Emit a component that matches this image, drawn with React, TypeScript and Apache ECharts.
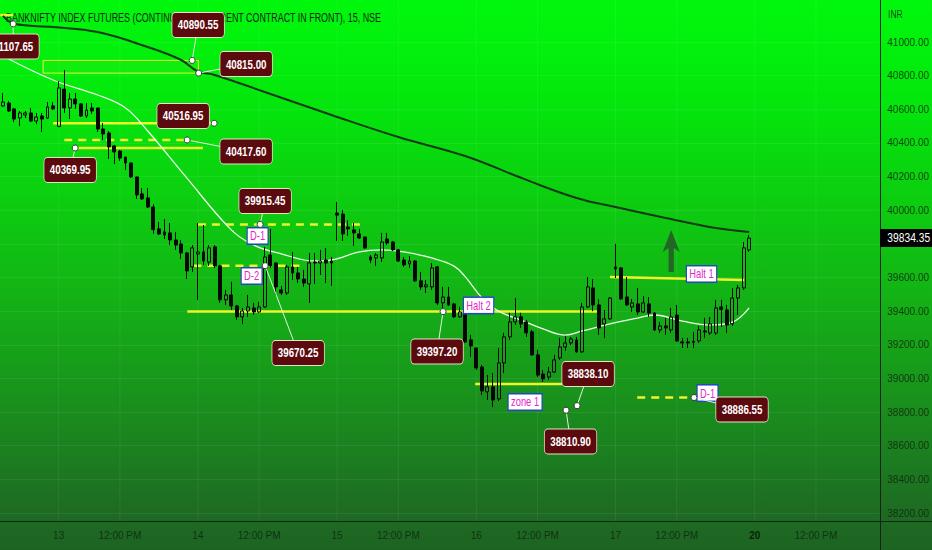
import React, { useEffect, useRef } from 'react';
import * as echarts from 'echarts';

// ---------- texts ----------
const TITLE = 'BANKNIFTY INDEX FUTURES (CONTINUOUS: CURRENT CONTRACT IN FRONT), 15, NSE';
const CURRENCY = 'INR';
const NOON_LABEL = '12:00 PM';

// ---------- time axis ----------
const tradingDays = [10, 13, 14, 15, 16, 17, 20];
const boldDayLabels = [20];
const BARS_PER_DAY = 25; // 09:15 ... 15:15, 15-minute bars
const SESSION_OPEN_MIN = 9 * 60 + 15;
const BAR_MINUTES = 15;
const FIRST_VISIBLE_SLOT = 15; // 13:00 bar of day 10
const VISIBLE_SLOTS = 158;
const FIRST_BAR_INDEX = -10; // bar index of first visible slot (0 = 13th 09:15)

// ---------- price axis ----------
const AXIS_MIN = 38200;
const AXIS_MAX = 41000;
const AXIS_STEP = 200;

// ---------- candles [open, close, low, high] ----------
const day10Bars = [
  [40620, 40643, 40614, 40697], [40637, 40590, 40584, 40649], [40602, 40542, 40524, 40608],
  [40548, 40578, 40500, 40590], [40566, 40578, 40548, 40590], [40578, 40530, 40524, 40608],
  [40530, 40554, 40512, 40578], [40560, 40542, 40465, 40578], [40548, 40614, 40542, 40643],
  [40620, 40602, 40596, 40643],
];
const day13Bars = [
  [40497, 40727, 40495, 40768], [40720, 40608, 40578, 40834], [40608, 40661, 40542, 40697],
  [40661, 40632, 40602, 40697], [40632, 40560, 40554, 40637], [40560, 40596, 40548, 40637],
  [40608, 40590, 40572, 40637], [40608, 40483, 40465, 40608], [40483, 40453, 40417, 40518],
  [40459, 40376, 40305, 40471], [40382, 40346, 40275, 40388], [40352, 40310, 40293, 40358],
  [40316, 40281, 40240, 40316], [40281, 40198, 40192, 40281], [40198, 40091, 40067, 40198],
  [40097, 40067, 40061, 40132], [40073, 40019, 40013, 40132], [40019, 39885, 39860, 40035],
  [39889, 39859, 39853, 39930], [39871, 39853, 39829, 39948], [39865, 39823, 39793, 39924],
  [39823, 39793, 39764, 39871], [39799, 39746, 39710, 39823], [39746, 39639, 39591, 39752],
  [39663, 39776, 39633, 39793],
];
const day14Bars = [
  [39740, 39752, 39467, 39924], [39752, 39698, 39675, 39912], [39692, 39776, 39669, 39793],
  [39782, 39669, 39657, 39793], [39669, 39467, 39449, 39675], [39467, 39496, 39437, 39526],
  [39496, 39431, 39407, 39574], [39431, 39366, 39348, 39437], [39366, 39401, 39324, 39419],
  [39401, 39425, 39366, 39496], [39419, 39395, 39378, 39449], [39395, 39425, 39390, 39455],
  [39425, 39722, 39419, 39782], [39734, 39669, 39657, 39889], [39686, 39544, 39496, 39692],
  [39526, 39508, 39496, 39550], [39508, 39663, 39496, 39675], [39663, 39627, 39585, 39752],
  [39627, 39591, 39567, 39663], [39591, 39567, 39544, 39645], [39562, 39687, 39449, 39746],
  [39692, 39686, 39562, 39746], [39686, 39698, 39615, 39764], [39704, 39686, 39567, 39776],
  [39698, 39686, 39550, 39722],
];
const day15Bars = [
  [39983, 39971, 39817, 40049], [39977, 39859, 39817, 40001], [39900, 39889, 39847, 39941],
  [39883, 39865, 39788, 39924], [39859, 39835, 39829, 39889], [39841, 39776, 39770, 39841],
  [39722, 39704, 39686, 39734], [39716, 39734, 39669, 39746], [39716, 39811, 39692, 39865],
  [39829, 39805, 39793, 39865], [39811, 39764, 39758, 39817], [39764, 39698, 39692, 39770],
  [39704, 39675, 39663, 39722], [39681, 39698, 39657, 39728], [39698, 39580, 39574, 39704],
  [39580, 39544, 39526, 39633], [39544, 39556, 39508, 39585], [39544, 39657, 39526, 39686],
  [39663, 39449, 39437, 39669], [39449, 39484, 39419, 39544], [39484, 39437, 39431, 39544],
  [39443, 39366, 39360, 39449], [39366, 39395, 39360, 39425], [39413, 39217, 39211, 39455],
  [39229, 39193, 39128, 39259],
];
const day16Bars = [
  [39181, 39062, 39050, 39181], [39068, 38926, 38902, 39080], [38920, 38950, 38872, 39020],
  [38950, 38872, 38830, 39032], [38878, 39092, 38866, 39181], [39092, 39247, 39032, 39271],
  [39247, 39336, 39229, 39390], [39336, 39366, 39318, 39478], [39366, 39324, 39300, 39390],
  [39336, 39271, 39247, 39348], [39277, 39140, 39134, 39288], [39140, 39020, 39008, 39170],
  [39026, 38997, 38979, 39050], [39008, 39038, 38991, 39068], [39038, 39110, 39032, 39140],
  [39122, 39187, 39110, 39241], [39187, 39211, 39164, 39253], [39211, 39235, 39199, 39247],
  [39229, 39158, 39152, 39247], [39158, 39425, 39152, 39449], [39425, 39544, 39419, 39603],
  [39538, 39437, 39400, 39590], [39437, 39300, 39260, 39470], [39324, 39354, 39240, 39407],
  [39354, 39478, 39348, 39484],
];
const day17Bars = [
  [39663, 39651, 39597, 39800], [39657, 39473, 39467, 39663], [39484, 39437, 39431, 39603],
  [39425, 39449, 39395, 39472], [39443, 39395, 39377, 39538], [39395, 39449, 39389, 39490],
  [39443, 39389, 39365, 39484], [39389, 39288, 39282, 39395], [39288, 39312, 39270, 39336],
  [39312, 39300, 39259, 39360], [39288, 39365, 39270, 39419], [39377, 39223, 39217, 39437],
  [39217, 39211, 39181, 39241], [39217, 39211, 39181, 39241], [39220, 39215, 39181, 39276],
  [39223, 39288, 39211, 39312], [39282, 39276, 39241, 39360], [39270, 39324, 39259, 39365],
  [39270, 39419, 39259, 39467], [39425, 39410, 39306, 39467], [39407, 39318, 39270, 39437],
  [39324, 39478, 39312, 39538], [39478, 39538, 39377, 39556], [39538, 39776, 39526, 39811],
  [39764, 39834.35, 39752, 39853],
];

// ---------- moving averages, read at sample bars [bar, value] ----------
const slowAverage = [
  [-10, 41155], [-8, 41108], [-1, 41089], [7, 41059], [16, 40970], [22, 40893], [25, 40825],
  [28, 40804], [37, 40703], [49, 40566], [61, 40435], [73, 40322], [84, 40180], [93, 40073],
  [100, 40019], [109, 39954], [118, 39894], [124, 39871],
];
const fastAverage = [
  [-10, 40917], [-1, 40774], [7, 40685], [12, 40608], [16, 40471], [23, 40192], [31, 39883],
  [35, 39793], [40, 39740], [46, 39698], [49, 39704], [54, 39752], [58, 39764], [62, 39752],
  [67, 39716], [71, 39668], [73, 39605], [76, 39480], [79, 39400], [83, 39347], [87, 39294],
  [91, 39258], [94, 39282], [99, 39324], [104, 39359], [107, 39377], [112, 39341], [117, 39318],
  [121, 39335], [124, 39419],
];

// ---------- drawn levels [fromBar, toBar, priceStart, priceEnd] ----------
const solidLevels = [
  [-10.5, -8.2, 41160, 41160],
  [-1, 27.9, 40516.95, 40516.95],
  [2.96, 25.9, 40369.95, 40369.95],
  [23.1, 96.9, 39397.2, 39397.2],
  [74.8, 90.4, 38967, 38967],
  [99, 123.1, 39603, 39585],
];
const dashedLevels = [
  [1, 23.07, 40417.6, 40417.6],
  [25, 55, 39915.45, 39915.45],
  [24.2, 43.4, 39670.25, 39670.25],
  [103.9, 114.1, 38886.55, 38886.55],
];
// [fromBar, toBar, lowPrice, highPrice]
const zoneBoxes = [[-2.8, 25.1, 40815, 40890.55]];

// ---------- price notes: [bar, price] ----------
const priceNotes = [
  [-8.17, 41107.65], [23.97, 40890.55], [25.14, 40815.0], [27.92, 40516.95],
  [23.07, 40417.6], [2.96, 40369.95], [36.18, 39915.45], [37.08, 39670.25],
  [69.03, 39397.2], [93.1, 38838.1], [91.12, 38810.9], [114.1, 38886.55],
];
// label box offsets from each note's point, in pixels (layout only)
const noteOffsets = [
  [0, 22.5], [6, -35.5], [47.5, -9], [-31, -7.3], [59, 11.5], [-5, 22], [5, -23.4],
  [33, 87.3], [-6, 40], [11, -31.7], [4.5, 31.2], [48, 12],
];

// ---------- tags [text, bar, price] ----------
const tagTexts = ['D-1', 'D-2', 'Halt 2', 'zone 1', 'D-1', 'Halt 1'];
const tagPoints = [
  [35.73, 39847], [34.65, 39609], [75.41, 39434], [83.76, 38860], [116.53, 38913], [115.45, 39621],
];
// arrow: [bar, tipPrice, basePrice]
const arrowMarks = [[110, 39882, 39633]];

// ---------- layout / style ----------
const W = 932;
const H = 550;
const PLOT_RIGHT = 52;
const PLOT_H = 521;
const AXIS_TOP_Y = 42;
const AXIS_BOTTOM_Y = 513;
const NARROW = 0.78; // horizontal squeeze of the narrow chart font
const TITLE_NARROW = 0.713;
const FONT = '"Liberation Sans", Arial, sans-serif';
const TEXT_DARK = 'rgba(16,38,16,0.85)';
const YELLOW = '#eef52a';
const LEADER = '#e6f2dc';
const BG = 'linear-gradient(180deg, #00f80c 0%, #03ea0c 16%, #0bd10f 34%, #12b914 50%, #179d1a 66%, #1b831f 80%, #1d6d22 92%, #1d6422 100%)';

const unitsPerPx = (AXIS_MAX - AXIS_MIN) / (AXIS_BOTTOM_Y - AXIS_TOP_Y);
const Y_MAX = AXIS_MAX + AXIS_TOP_Y * unitsPerPx;
const Y_MIN = AXIS_MAX - (PLOT_H - AXIS_TOP_Y) * unitsPerPx;

const pad = (n: number) => String(n).padStart(2, '0');
const allSlots = tradingDays.flatMap((day) =>
  Array.from({ length: BARS_PER_DAY }, (_, b) => {
    const m = SESSION_OPEN_MIN + b * BAR_MINUTES;
    return `${day} ${pad(Math.floor(m / 60))}:${pad(m % 60)}`;
  })
);
const categories = allSlots.slice(FIRST_VISIBLE_SLOT, FIRST_VISIBLE_SLOT + VISIBLE_SLOTS);
const candles = [...day10Bars, ...day13Bars, ...day14Bars, ...day15Bars, ...day16Bars, ...day17Bars];
const lastClose = day17Bars[day17Bars.length - 1][1];
const lastBar = FIRST_BAR_INDEX + candles.length - 1;

const slotLabel = (cat: string) => {
  const [day, time] = cat.split(' ');
  if (time === '09:15') return boldDayLabels.includes(Number(day)) ? `{b|${day}}` : day;
  if (time === '12:00') return NOON_LABEL;
  return '';
};
const gridBars = categories
  .map((c, k) => (slotLabel(c) ? [k + FIRST_BAR_INDEX] : null))
  .filter((v) => v !== null) as number[][];

const customBase = {
  type: 'custom',
  coordinateSystem: 'cartesian2d',
  xAxisIndex: 1,
  yAxisIndex: 0,
  silent: true,
  clip: false,
};

function buildOption(): any {
  return {
    animation: false,
    backgroundColor: 'transparent',
    grid: [
      { left: 0, right: PLOT_RIGHT, top: 0, height: PLOT_H },
      { left: 0, right: PLOT_RIGHT, top: AXIS_TOP_Y, height: AXIS_BOTTOM_Y - AXIS_TOP_Y },
    ],
    xAxis: [
      {
        type: 'category',
        gridIndex: 0,
        data: categories,
        boundaryGap: true,
        axisLine: { show: false },
        axisTick: { show: false },
        splitLine: { show: false },
        axisLabel: {
          interval: 0,
          margin: 9,
          color: TEXT_DARK,
          fontSize: 10,
          fontFamily: FONT,
          formatter: (v: string) => slotLabel(v),
          rich: { b: { fontWeight: 'bold', color: 'rgba(10,28,10,0.95)', fontSize: 10, fontFamily: FONT } },
        },
      },
      {
        type: 'value',
        gridIndex: 0,
        min: FIRST_BAR_INDEX - 0.5,
        max: FIRST_BAR_INDEX + VISIBLE_SLOTS - 0.5,
        show: false,
      },
      { type: 'value', gridIndex: 1, min: 0, max: 1, show: false },
    ],
    yAxis: [
      { type: 'value', gridIndex: 0, min: Y_MIN, max: Y_MAX, show: false },
      {
        type: 'value',
        gridIndex: 1,
        position: 'right',
        min: AXIS_MIN,
        max: AXIS_MAX,
        interval: AXIS_STEP,
        axisLine: { show: false },
        axisTick: { show: false },
        axisLabel: {
          margin: 8,
          color: TEXT_DARK,
          fontSize: 10,
          fontFamily: FONT,
          formatter: (v: number) => v.toFixed(2),
        },
        splitLine: { lineStyle: { color: 'rgba(255,255,255,0.07)', width: 1 } },
      },
    ],
    graphic: [
      {
        type: 'text',
        x: 6,
        y: 17.5,
        scaleX: TITLE_NARROW,
        z: 0,
        style: { text: TITLE, fill: '#0f230f', fontSize: 12.5, fontFamily: FONT, verticalAlign: 'middle' },
      },
      { type: 'line', shape: { x1: 0, y1: PLOT_H + 0.5, x2: W, y2: PLOT_H + 0.5 }, style: { stroke: '#142414', lineWidth: 1 }, z: 5 },
      { type: 'line', shape: { x1: W - PLOT_RIGHT + 0.5, y1: 0, x2: W - PLOT_RIGHT + 0.5, y2: H }, style: { stroke: '#142414', lineWidth: 1 }, z: 5 },
      { type: 'text', x: W - PLOT_RIGHT + 8, y: 14, scaleX: NARROW, style: { text: CURRENCY, fill: TEXT_DARK, fontSize: 11, fontFamily: FONT, verticalAlign: 'middle' }, z: 5 },
    ],
    series: [
      {
        ...customBase,
        z: 1,
        data: gridBars,
        renderItem: (params: any, api: any) => {
          const p = api.coord([api.value(0), Y_MIN]);
          const cs = params.coordSys;
          return {
            type: 'line',
            shape: { x1: p[0], y1: cs.y, x2: p[0], y2: cs.y + cs.height },
            style: { stroke: 'rgba(255,255,255,0.07)', lineWidth: 1 },
          };
        },
      },
      {
        ...customBase,
        z: 2,
        data: zoneBoxes,
        renderItem: (params: any, api: any) => {
          const a = api.coord([api.value(0), api.value(3)]);
          const b = api.coord([api.value(1), api.value(2)]);
          return {
            type: 'rect',
            shape: { x: a[0], y: a[1], width: b[0] - a[0], height: b[1] - a[1] },
            style: { fill: 'rgba(240,255,60,0.06)', stroke: YELLOW, lineWidth: 1 },
          };
        },
      },
      ...[solidLevels, dashedLevels].map((levels, li) => ({
        ...customBase,
        z: 2,
        data: levels,
        renderItem: (params: any, api: any) => {
          const a = api.coord([api.value(0), api.value(2)]);
          const b = api.coord([api.value(1), api.value(3)]);
          return {
            type: 'line',
            shape: { x1: a[0], y1: a[1], x2: b[0], y2: b[1] },
            style: { stroke: YELLOW, lineWidth: 2.5, lineDash: li === 1 ? [8, 6] : null },
          };
        },
      })),
      {
        type: 'line',
        xAxisIndex: 1,
        yAxisIndex: 0,
        z: 3,
        data: slowAverage,
        smooth: 0.4,
        showSymbol: false,
        silent: true,
        lineStyle: { color: '#123a14', width: 2 },
      },
      {
        type: 'line',
        xAxisIndex: 1,
        yAxisIndex: 0,
        z: 3,
        data: fastAverage,
        smooth: 0.4,
        showSymbol: false,
        silent: true,
        lineStyle: { color: '#eefbe6', width: 1.3 },
      },
      {
        type: 'candlestick',
        xAxisIndex: 0,
        yAxisIndex: 0,
        z: 4,
        data: candles,
        barWidth: 3.4,
        itemStyle: {
          color: 'rgba(0,0,0,0)',
          color0: '#050805',
          borderColor: '#050805',
          borderColor0: '#050805',
          borderWidth: 1,
        },
      },
      {
        ...customBase,
        z: 6,
        data: arrowMarks,
        renderItem: (params: any, api: any) => {
          const tip = api.coord([api.value(0), api.value(1)]);
          const base = api.coord([api.value(0), api.value(2)]);
          const headLen = 22;
          const headHalf = 8.5;
          const shaftHalf = 2.6;
          const x = tip[0];
          const y = tip[1];
          return {
            type: 'polygon',
            shape: {
              points: [
                [x, y],
                [x + headHalf, y + headLen],
                [x + shaftHalf, y + headLen - 4],
                [x + shaftHalf, base[1]],
                [x - shaftHalf, base[1]],
                [x - shaftHalf, y + headLen - 4],
                [x - headHalf, y + headLen],
              ],
            },
            style: { fill: 'rgba(38,92,40,0.9)' },
          };
        },
      },
      {
        ...customBase,
        z: 8,
        data: tagPoints,
        renderItem: (params: any, api: any) => {
          const p = api.coord([api.value(0), api.value(1)]);
          return {
            type: 'text',
            x: p[0],
            y: p[1],
            scaleX: NARROW,
            style: {
              text: tagTexts[params.dataIndex],
              fill: '#e524c9',
              fontSize: 12,
              fontFamily: FONT,
              align: 'center',
              verticalAlign: 'middle',
              backgroundColor: '#ffffff',
              borderColor: '#2346c8',
              borderWidth: 1.5,
              padding: [2, 3, 1, 3],
            },
          };
        },
      },
      {
        ...customBase,
        z: 10,
        data: priceNotes,
        renderItem: (params: any, api: any) => {
          const dot = api.coord([api.value(0), api.value(1)]);
          const off = noteOffsets[params.dataIndex];
          const bx = dot[0] + off[0];
          const by = dot[1] + off[1];
          return {
            type: 'group',
            children: [
              { type: 'line', shape: { x1: dot[0], y1: dot[1], x2: bx, y2: by }, style: { stroke: LEADER, lineWidth: 1 } },
              {
                type: 'text',
                x: bx,
                y: by,
                scaleX: NARROW,
                style: {
                  text: Number(api.value(1)).toFixed(2),
                  fill: '#ffffff',
                  fontSize: 12.5,
                  fontWeight: 'bold',
                  fontFamily: FONT,
                  align: 'center',
                  verticalAlign: 'middle',
                  backgroundColor: '#5b0a0e',
                  borderColor: '#e9e2c8',
                  borderWidth: 1,
                  borderRadius: 4,
                  padding: [6, 7, 5, 7],
                },
              },
              { type: 'circle', shape: { cx: dot[0], cy: dot[1], r: 3 }, style: { fill: '#ffffff', stroke: '#3a3a3a', lineWidth: 1 } },
            ],
          };
        },
      },
      {
        ...customBase,
        z: 10,
        data: [[lastBar, lastClose]],
        renderItem: (params: any, api: any) => {
          const p = api.coord([api.value(0), api.value(1)]);
          const cs = params.coordSys;
          return {
            type: 'text',
            x: cs.x + cs.width,
            y: p[1],
            scaleX: 0.82,
            style: {
              text: Number(api.value(1)).toFixed(2),
              fill: '#ffffff',
              fontSize: 12.5,
              fontFamily: FONT,
              align: 'left',
              verticalAlign: 'middle',
              backgroundColor: '#000000',
              padding: [3, 4, 2, 9],
            },
          };
        },
      },
    ],
  };
}

export default function App() {
  const ref = useRef<HTMLDivElement>(null);
  useEffect(() => {
    document.body.style.margin = '0';
    const chart = echarts.init(ref.current as HTMLDivElement, undefined, { renderer: 'svg' });
    chart.setOption(buildOption());
    return () => chart.dispose();
  }, []);
  return (
    <div
      ref={ref}
      style={{ position: 'absolute', left: 0, top: 0, width: W, height: H, background: BG }}
    />
  );
}
